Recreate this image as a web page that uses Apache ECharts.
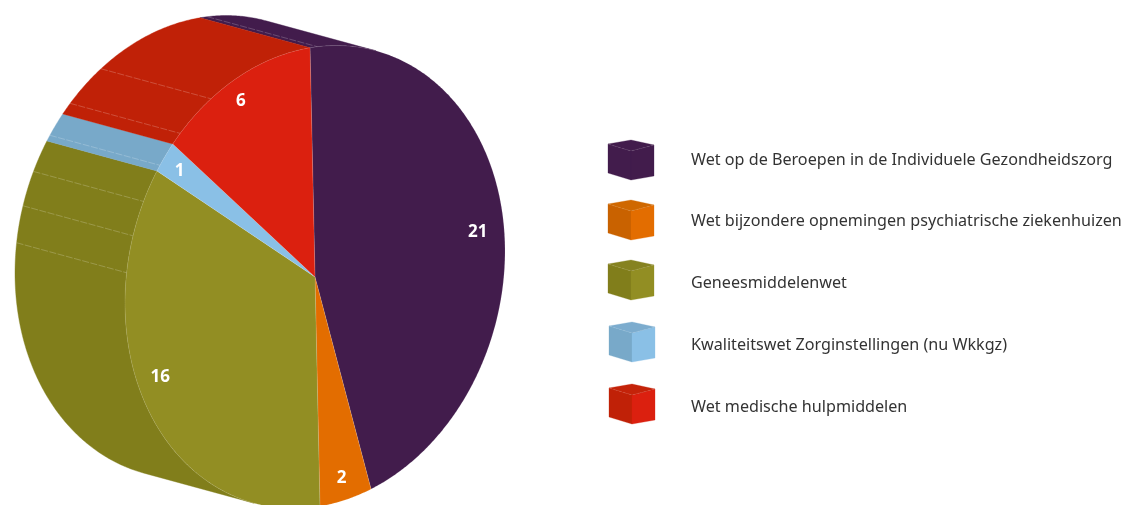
<!DOCTYPE html>
<html>
<head>
<meta charset="utf-8">
<style>html,body{margin:0;padding:0;background:#fff}#c{width:1123px;height:505px}</style>
<script src="https://cdn.jsdelivr.net/npm/echarts@6/dist/echarts.min.js"></script>
</head>
<body>
<div id="c"></div>
<script>
// ---- data ----
const categories = [
  'Wet op de Beroepen in de Individuele Gezondheidszorg',
  'Wet bijzondere opnemingen psychiatrische ziekenhuizen',
  'Geneesmiddelenwet',
  'Kwaliteitswet Zorginstellingen (nu Wkkgz)',
  'Wet medische hulpmiddelen'
];
const values = [21, 2, 16, 1, 6];

// ---- styles ----
const faceColors = ['#421c4c', '#e36d00', '#928e23', '#8ac0e6', '#db200f'];
const wallColors = ['#421c4c', '#c96200', '#817e1b', '#78a9c9', '#c02107'];
const cubeTopColors = ['#421c4c', '#cf6800', '#868220', '#7cacce', '#c42309'];

// ---- layout of the projected disc ----
const disc = { cx: 315, cy: 277, a: 190, b: 230, shear: 26, dx: -110, dy: -30, startDeg: -1.5 };
const wallVisibleDeg = [198.7, 378.7];
const wallSeamsDeg = [[360.7], [], [295.5, 286.7, 277.5], [305.3], [326.8, 314.8]];
const labelRadius = 0.9;
const labelNudges = [[-6, 12], [-1, 1], [-5, -20], [0, 2], [-2, 2]];
const cubeOrigins = [[608, 140], [608, 200], [608, 260], [609, 322], [609, 384]];
const cubeShape = { apex: [23, 0], l: [0, 4], r: [46, 5], c: [23, 11], lb: [0, 33], b: [23, 40], rb: [46, 36] };

const total = values.reduce((s, v) => s + v, 0);
const toDeg = v => echarts.number.linearMap(v, [0, total], [disc.startDeg, disc.startDeg + 360]);
function project(deg, r) {
  const t = deg * Math.PI / 180;
  return [
    disc.cx + disc.a * r * Math.sin(t),
    disc.cy - disc.b * r * Math.cos(t) - disc.shear * r * Math.sin(t)
  ];
}
function arc(from, to) {
  const pts = [], n = Math.max(2, Math.ceil(Math.abs(to - from) * 2));
  for (let i = 0; i <= n; i++) pts.push(project(from + (to - from) * i / n, 1));
  return pts;
}
const shift = p => [p[0] + disc.dx, p[1] + disc.dy];

function renderLaw(params, api) {
  const i = params.seriesIndex, value = api.value(0);
  const before = values.slice(0, i).reduce((s, v) => s + v, 0);
  const from = toDeg(before), to = toDeg(before + value);
  const children = [];

  // side wall (visible part, also tested one turn later)
  [0, 360].forEach(turn => {
    const lo = Math.max(from + turn, wallVisibleDeg[0]);
    const hi = Math.min(to + turn, wallVisibleDeg[1]);
    if (hi > lo) {
      const front = arc(lo, hi);
      children.push({
        type: 'polygon', z2: 1,
        shape: { points: front.concat(front.map(shift).reverse()) },
        style: { fill: wallColors[i], stroke: wallColors[i], lineWidth: 0.4 }
      });
    }
  });
  // thin seams across the wall
  wallSeamsDeg[i].forEach(d => {
    const p = project(d, 1), q = shift(p);
    children.push({
      type: 'line', z2: 2,
      shape: { x1: q[0], y1: q[1], x2: p[0], y2: p[1] },
      style: { stroke: 'rgba(255,255,255,0.3)', lineWidth: 0.7, lineDash: [7, 1.5] }
    });
  });
  // top face
  children.push({
    type: 'polygon', z2: 3,
    shape: { points: [[disc.cx, disc.cy]].concat(arc(from, to)) },
    style: { fill: faceColors[i], stroke: 'rgba(255,255,255,0.22)', lineWidth: 0.5 }
  });
  // value label
  const mid = (from + to) / 2, lp = project(mid, labelRadius);
  children.push({
    type: 'text', z2: 5,
    style: {
      text: String(value), x: lp[0] + labelNudges[i][0], y: lp[1] + labelNudges[i][1],
      fill: '#fff', font: 'bold 17px "Open Sans"', align: 'center', verticalAlign: 'middle'
    }
  });
  // legend cube
  const o = cubeOrigins[i], at = p => [o[0] + p[0], o[1] + p[1]], s = cubeShape;
  const face = (pts, fill) => ({
    type: 'polygon', z2: 3, shape: { points: pts.map(at) },
    style: { fill, stroke: fill, lineWidth: 0.3 }
  });
  children.push(face([s.l, s.c, s.b, s.lb], wallColors[i]));
  children.push(face([s.c, s.r, s.rb, s.b], faceColors[i]));
  children.push(face([s.apex, s.r, s.c, s.l], cubeTopColors[i]));
  children.push({
    type: 'polyline', z2: 4, shape: { points: [s.l, s.c, s.r].map(at) },
    style: { fill: 'none', stroke: 'rgba(255,255,255,0.18)', lineWidth: 0.6, lineDash: [3, 2] }
  });
  return { type: 'group', children };
}

const chart = echarts.init(document.getElementById('c'), null, { renderer: 'canvas' });
chart.setOption({
  animation: false,
  backgroundColor: '#fff',
  tooltip: { show: false },
  legend: {
    orient: 'vertical', left: 608, top: 135, itemWidth: 47, itemHeight: 40, itemGap: 21.75,
    selectedMode: false, icon: 'rect', itemStyle: { opacity: 0 },
    data: categories,
    textStyle: { fontFamily: 'Noto Sans', fontSize: 16.15, color: '#333', padding: [0, 0, 0, 26] }
  },
  series: categories.map((name, i) => ({
    type: 'custom', name, coordinateSystem: 'none', clip: false, silent: true,
    itemStyle: { color: faceColors[i] },
    renderItem: renderLaw,
    data: [[values[i]]]
  }))
});
</script>
</body>
</html>
